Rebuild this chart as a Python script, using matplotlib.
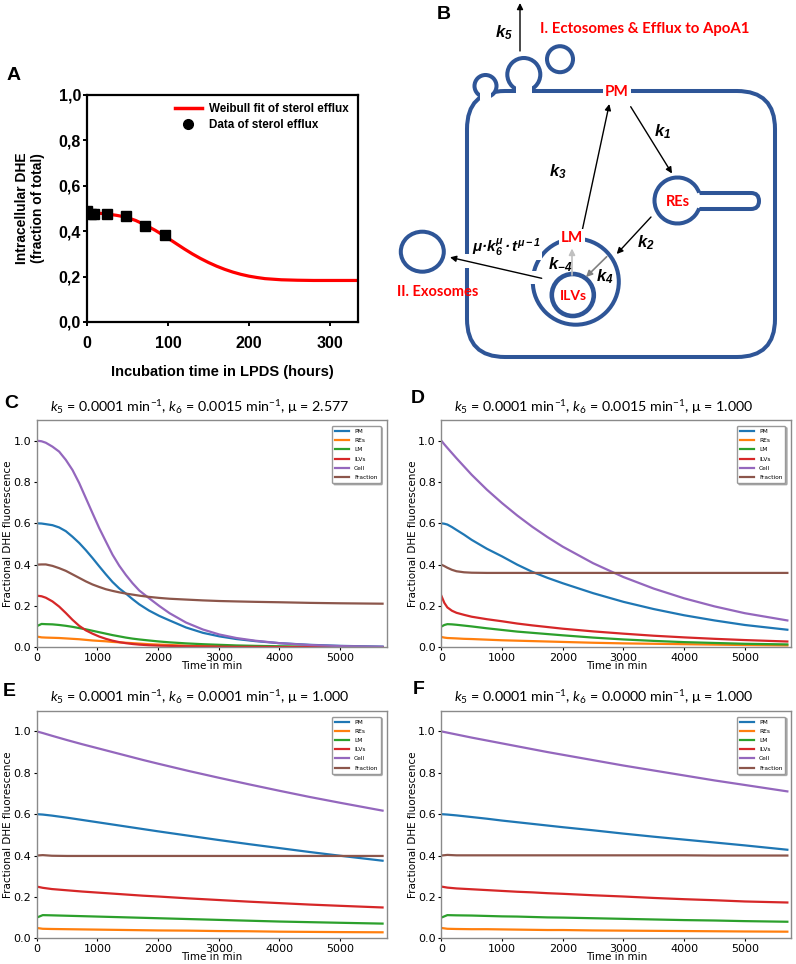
import numpy as np
import matplotlib
matplotlib.use('Agg')
import matplotlib.pyplot as plt
from matplotlib.patches import Circle, Ellipse, FancyBboxPatch, Rectangle, Arc
from matplotlib.lines import Line2D

plt.rcParams['mathtext.fontset'] = 'custom'
plt.rcParams['mathtext.rm'] = 'Lato'
plt.rcParams['mathtext.it'] = 'Lato:italic'
plt.rcParams['mathtext.bf'] = 'Liberation Sans:bold'
plt.rcParams['mathtext.bfit'] = 'Liberation Sans:italic:bold'

# ---- panel A: sterol efflux data + Weibull fit (hours, fraction) ----
efflux_h = [0, 4, 8, 24, 48, 72, 96]
efflux_val = [0.49, 0.477, 0.475, 0.474, 0.467, 0.423, 0.383]
fit_h = [0, 12, 24, 36, 48, 60, 72, 84, 96, 108, 120, 130, 140, 150, 160, 170, 180,
         190, 200, 210, 220, 240, 260, 280, 300, 335]
fit_val = [0.482, 0.480, 0.476, 0.470, 0.462, 0.447, 0.427, 0.404, 0.378, 0.350, 0.322,
           0.300, 0.280, 0.262, 0.246, 0.232, 0.220, 0.210, 0.202, 0.196, 0.191, 0.186,
           0.184, 0.183, 0.183, 0.183]
a_yticks = [0.0, 0.2, 0.4, 0.6, 0.8, 1.0]
a_xticks = [0, 100, 200, 300]

# ---- panels C-F: simulated compartments (time in min) ----
labels = ['PM', 'REs', 'LM', 'ILVs', 'Cell', 'Fraction']

# C: k6 = 0.0015, mu = 2.577
t_c = [0, 80, 150, 260, 370, 480, 590, 700, 810, 920, 1030, 1140, 1250, 1360, 1470,
       1580, 1690, 1850, 2020, 2190, 2460, 2740, 3010, 3290, 3600, 4000, 4500, 5000, 5700]
pm_c = [0.6, 0.599, 0.596, 0.591, 0.58, 0.562, 0.535, 0.505, 0.47, 0.432, 0.392, 0.353,
        0.316, 0.285, 0.26, 0.233, 0.208, 0.178, 0.152, 0.13, 0.096, 0.07, 0.053, 0.04,
        0.03, 0.02, 0.012, 0.007, 0.003]
res_c = [0.052, 0.048, 0.047, 0.046, 0.045, 0.043, 0.041, 0.039, 0.036, 0.033, 0.031,
         0.029, 0.026, 0.024, 0.022, 0.02, 0.018, 0.015, 0.013, 0.011, 0.008, 0.006,
         0.005, 0.004, 0.003, 0.002, 0.001, 0.001, 0.0005]
lm_c = [0.102, 0.113, 0.112, 0.111, 0.108, 0.104, 0.099, 0.093, 0.087, 0.08, 0.073,
        0.066, 0.059, 0.053, 0.047, 0.042, 0.038, 0.033, 0.028, 0.024, 0.019, 0.015,
        0.012, 0.009, 0.007, 0.005, 0.003, 0.002, 0.001]
ilv_c = [0.25, 0.247, 0.24, 0.222, 0.197, 0.166, 0.133, 0.104, 0.082, 0.066, 0.052,
         0.041, 0.032, 0.025, 0.02, 0.016, 0.013, 0.01, 0.008, 0.007, 0.005, 0.004,
         0.003, 0.002, 0.002, 0.001, 0.001, 0.0005, 0.0003]
cell_c = [1.0, 0.997, 0.99, 0.971, 0.947, 0.907, 0.858, 0.795, 0.722, 0.649, 0.577,
          0.512, 0.448, 0.395, 0.35, 0.31, 0.275, 0.238, 0.2, 0.165, 0.12, 0.086, 0.062,
          0.045, 0.032, 0.02, 0.011, 0.006, 0.003]
frac_c = [0.40, 0.401, 0.401, 0.394, 0.383, 0.37, 0.353, 0.336, 0.319, 0.304, 0.292,
          0.281, 0.273, 0.266, 0.26, 0.255, 0.25, 0.244, 0.239, 0.235, 0.231, 0.227,
          0.224, 0.222, 0.22, 0.218, 0.215, 0.213, 0.211]

# D: k6 = 0.0015, mu = 1
t_d = [0, 50, 100, 175, 250, 375, 500, 750, 1000, 1250, 1500, 1750, 2000, 2500, 3000,
       3500, 4000, 4500, 5000, 5700]
pm_d = [0.6, 0.598, 0.594, 0.582, 0.568, 0.545, 0.52, 0.477, 0.44, 0.40, 0.365, 0.336,
        0.31, 0.262, 0.22, 0.185, 0.155, 0.13, 0.108, 0.085]
res_d = [0.05, 0.047, 0.045, 0.044, 0.043, 0.041, 0.04, 0.037, 0.034, 0.032, 0.03, 0.028,
         0.026, 0.022, 0.019, 0.017, 0.015, 0.013, 0.011, 0.009]
lm_d = [0.1, 0.108, 0.112, 0.111, 0.109, 0.105, 0.101, 0.092, 0.084, 0.076, 0.07, 0.064,
        0.058, 0.047, 0.038, 0.031, 0.025, 0.021, 0.017, 0.014]
ilv_d = [0.25, 0.215, 0.193, 0.177, 0.167, 0.157, 0.148, 0.136, 0.126, 0.115, 0.106,
         0.098, 0.09, 0.077, 0.066, 0.056, 0.048, 0.041, 0.035, 0.028]
cell_d = [1.0, 0.982, 0.965, 0.94, 0.915, 0.875, 0.835, 0.763, 0.698, 0.638, 0.583,
          0.533, 0.487, 0.407, 0.34, 0.284, 0.237, 0.198, 0.165, 0.13]
frac_d = [0.40, 0.393, 0.385, 0.375, 0.368, 0.363, 0.361, 0.36, 0.36, 0.36, 0.36, 0.36,
          0.36, 0.36, 0.36, 0.36, 0.36, 0.36, 0.36, 0.36]

# E and F share one time grid
t_min = [0, 100, 250, 500, 750, 1000, 1250, 1500, 1750, 2000, 2500, 3000, 3500, 4000,
         4500, 5000, 5700]
pm_e = [0.6, 0.598, 0.593, 0.583, 0.572, 0.561, 0.55, 0.539, 0.528, 0.517, 0.496, 0.475,
        0.455, 0.436, 0.417, 0.399, 0.375]
res_e = [0.05, 0.046, 0.045, 0.044, 0.043, 0.042, 0.041, 0.04, 0.039, 0.038, 0.037,
         0.035, 0.034, 0.032, 0.031, 0.03, 0.029]
lm_e = [0.1, 0.112, 0.111, 0.109, 0.107, 0.105, 0.103, 0.101, 0.099, 0.097, 0.093,
        0.089, 0.085, 0.081, 0.078, 0.075, 0.071]
ilv_e = [0.25, 0.244, 0.238, 0.232, 0.226, 0.221, 0.216, 0.211, 0.206, 0.202, 0.193,
         0.185, 0.177, 0.17, 0.163, 0.157, 0.149]
cell_e = [1.0, 0.992, 0.979, 0.958, 0.938, 0.919, 0.9, 0.881, 0.862, 0.844, 0.809,
          0.776, 0.744, 0.713, 0.683, 0.655, 0.617]
frac_e = [0.40, 0.402, 0.399, 0.398, 0.398, 0.398, 0.398, 0.398, 0.398, 0.398, 0.398,
          0.398, 0.398, 0.398, 0.398, 0.398, 0.398]

pm_f = [0.6, 0.598, 0.594, 0.586, 0.578, 0.569, 0.561, 0.553, 0.545, 0.537, 0.522, 0.506,
        0.491, 0.477, 0.463, 0.449, 0.428]
res_f = [0.05, 0.046, 0.045, 0.044, 0.044, 0.043, 0.042, 0.041, 0.04, 0.04, 0.038, 0.037,
         0.036, 0.035, 0.034, 0.033, 0.032]
lm_f = [0.1, 0.112, 0.111, 0.11, 0.108, 0.106, 0.105, 0.103, 0.101, 0.1, 0.097, 0.094,
        0.091, 0.088, 0.086, 0.083, 0.08]
ilv_f = [0.25, 0.245, 0.241, 0.237, 0.233, 0.229, 0.225, 0.222, 0.218, 0.215, 0.208,
         0.202, 0.195, 0.189, 0.184, 0.178, 0.173]
cell_f = [1.0, 0.994, 0.985, 0.970, 0.956, 0.942, 0.928, 0.914, 0.9, 0.887, 0.861, 0.835,
          0.811, 0.787, 0.763, 0.741, 0.71]
frac_f = [0.40, 0.403, 0.401, 0.401, 0.401, 0.401, 0.401, 0.401, 0.401, 0.401, 0.401,
          0.401, 0.401, 0.401, 0.40, 0.40, 0.40]

k5_vals = [0.0001, 0.0001, 0.0001, 0.0001]
k6_vals = [0.0015, 0.0015, 0.0001, 0.0000]
mu_vals = [2.577, 1.000, 1.000, 1.000]

W, H = 796, 964
fig = plt.figure(figsize=(W / 100, H / 100), dpi=100)


def box(l, t, r, b):
    return [l / W, 1 - b / H, (r - l) / W, (b - t) / H]


def ftext(x, y, s, **kw):
    kw.setdefault('ha', 'center')
    kw.setdefault('va', 'center')
    return fig.text(x / W, 1 - y / H, s, **kw)


arial_b = dict(family='Liberation Sans', weight='bold')

# ---------------- panel A ----------------
axA = fig.add_axes(box(87.3, 95, 358, 322))
axA.plot(fit_h, fit_val, color='red', lw=2.3, zorder=2)
axA.plot(efflux_h, efflux_val, 's', color='black', ms=7, zorder=3)
axA.set_xlim(0, 335)
axA.set_ylim(0, 1.0)
axA.set_yticks(a_yticks, [f'{v:.1f}'.replace('.', ',') for v in a_yticks],
               fontsize=11.5, **arial_b)
axA.set_xticks(a_xticks, [str(v) for v in a_xticks], fontsize=11.5, **arial_b)
for s in axA.spines.values():
    s.set_linewidth(1.6)
axA.tick_params(axis='y', direction='out', length=3, width=1.4, pad=1.5)
axA.tick_params(axis='x', direction='out', length=3, width=1.4, pad=7)
handles = [Line2D([], [], color='red', lw=2.5),
           Line2D([], [], ls='none', marker='o', color='black', ms=7)]
axA.legend(handles, ['Weibull fit of sterol efflux', 'Data of sterol efflux'],
           loc='upper right', bbox_to_anchor=(0.965, 0.965), frameon=False,
           prop=dict(family='Liberation Sans', weight='bold', size=8.4),
           handlelength=2.3, handletextpad=0.6, labelspacing=0.35,
           borderaxespad=0, borderpad=0)
ftext(30, 208.5, 'Intracellular DHE\n(fraction of total)', rotation=90,
      fontsize=10, linespacing=1.2, **arial_b)
ftext(222.5, 372, 'Incubation time in LPDS (hours)', fontsize=10.5, **arial_b)

# ---------------- panel B (scheme) ----------------
axB = fig.add_axes(box(380, 0, 796, 360))
axB.set_xlim(380, 796)
axB.set_ylim(360, 0)
axB.axis('off')
blue = '#2e5597'
red = '#ff0000'
mlw = 2.9

axB.add_patch(FancyBboxPatch((467, 91), 308, 266, boxstyle='round,pad=0,rounding_size=38',
                             fc='none', ec=blue, lw=mlw, zorder=2))
# budding vesicles on the plasma membrane
axB.add_patch(Circle((485.5, 86), 11, fc='white', ec=blue, lw=mlw, zorder=3))
axB.add_patch(Rectangle((480, 93), 11, 7, fc='white', ec='none', zorder=4))
axB.add_patch(Circle((523.8, 74.5), 16.5, fc='white', ec=blue, lw=mlw, zorder=3))
axB.add_patch(Rectangle((516, 86), 15.5, 9, fc='white', ec='none', zorder=4))
axB.add_patch(Circle((560, 59.2), 13, fc='none', ec=blue, lw=mlw, zorder=3))
axB.add_patch(Ellipse((422.3, 251.7), 43, 40, fc='none', ec=blue, lw=mlw, zorder=3))
# membrane gap where exosome leaves
axB.add_patch(Rectangle((461, 254), 12, 14, fc='white', ec='none', zorder=4))
# recycling endosome with tubule
axB.add_patch(FancyBboxPatch((690, 193), 69, 16, boxstyle='round,pad=0,rounding_size=8',
                             fc='white', ec=blue, lw=mlw, zorder=2))
axB.add_patch(Circle((677.5, 200.5), 23, fc='white', ec='none', zorder=3))
axB.add_patch(Arc((677.5, 200.5), 46, 46, theta1=20, theta2=340, ec=blue, lw=mlw, zorder=4))
# late endosome and ILVs
axB.add_patch(Circle((575.8, 281.7), 43, fc='none', ec=blue, lw=mlw, zorder=2))
axB.add_patch(Rectangle((528, 271), 11, 13, fc='white', ec='none', zorder=3))
axB.add_patch(Circle((572.8, 295), 21, fc='none', ec=blue, lw=3.3, zorder=2))


def arrow(p0, p1, color='black', lw=1.0):
    axB.annotate('', xy=p1, xytext=p0, zorder=5,
                 arrowprops=dict(arrowstyle='-|>', color=color, lw=lw,
                                 mutation_scale=9, shrinkA=0, shrinkB=0))


arrow((520, 51), (520, 3))
arrow((630.7, 106.7), (672, 173.5))
arrow((582.3, 230), (609.3, 104))
arrow((651, 217), (616.7, 254))
arrow((572, 275), (572, 248.5), color='#c0c0c0', lw=1.2)
arrow((606.7, 256.7), (586, 277), color='#808080', lw=1.2)
arrow((541.7, 278.3), (450, 257.3))

red_kw = dict(family='Lato', weight='bold', color=red, zorder=6)
wbox = dict(fc='white', ec='none', pad=1.5)
axB.text(540, 29.5, 'I. Ectosomes & Efflux to ApoA1', ha='left', va='center',
         fontsize=10.8, **red_kw)
axB.text(616.7, 92.5, 'PM', ha='center', va='center', fontsize=11, bbox=wbox, **red_kw)
axB.text(677.7, 201.5, 'REs', ha='center', va='center', fontsize=10.5, **red_kw)
axB.text(572, 238.5, 'LM', ha='center', va='center', fontsize=11, bbox=wbox, **red_kw)
axB.text(573, 295.5, 'ILVs', ha='center', va='center', fontsize=10, **red_kw)
axB.text(438, 291.7, 'II. Exosomes', ha='center', va='center', fontsize=10.5, **red_kw)

k_kw = dict(ha='center', va='center', fontsize=12, zorder=6)
axB.text(504, 33, r'$\mathbfit{k}_{\mathbfit{5}}$', **k_kw)
axB.text(663, 132, r'$\mathbfit{k}_{\mathbfit{1}}$', **k_kw)
axB.text(558.3, 172, r'$\mathbfit{k}_{\mathbfit{3}}$', **k_kw)
axB.text(646, 242.5, r'$\mathbfit{k}_{\mathbfit{2}}$', **k_kw)
axB.text(560, 265, r'$\mathbfit{k}_{\mathbfit{-4}}$', **k_kw)
axB.text(605, 277, r'$\mathbfit{k}_{\mathbfit{4}}$', **k_kw)
axB.text(506.7, 248, r'$\mathbfit{μ·k}_{\mathbfit{6}}^{\mathbfit{μ}}'
         r'\mathbfit{\,·\,t}^{\,\mathbfit{μ-1}}$',
         ha='center', va='center', fontsize=11, zorder=6,
         bbox=dict(fc='white', ec='none', pad=0.5))

# ---------------- panels C-F ----------------
colors = ['#1f77b4', '#ff7f0e', '#2ca02c', '#d62728', '#9467bd', '#8c564b']
panels = [
    ('C', (36.7, 420, 386.5, 647.3), t_c, [pm_c, res_c, lm_c, ilv_c, cell_c, frac_c]),
    ('D', (441.3, 420, 791.3, 647.3), t_d, [pm_d, res_d, lm_d, ilv_d, cell_d, frac_d]),
    ('E', (36.7, 710.7, 386.5, 938.3), t_min, [pm_e, res_e, lm_e, ilv_e, cell_e, frac_e]),
    ('F', (441.3, 710.7, 791.3, 938.3), t_min, [pm_f, res_f, lm_f, ilv_f, cell_f, frac_f]),
]
letter_pos = {'A': (13.3, 75), 'B': (443.3, 14.2), 'C': (10.8, 403.3),
              'D': (417.5, 398.3), 'E': (9.2, 691.7), 'F': (418.3, 689)}

for i, (name, (l, t, r, b), tt, series) in enumerate(panels):
    ax = fig.add_axes(box(l, t, r, b))
    for ys, c, lab in zip(series, colors, labels):
        ax.plot(tt, ys, color=c, lw=1.6, label=lab)
    ax.set_xlim(0, 5765)
    ax.set_ylim(0, 1.1)
    ax.set_xticks([0, 1000, 2000, 3000, 4000, 5000])
    ax.set_yticks([0.0, 0.2, 0.4, 0.6, 0.8, 1.0])
    ax.tick_params(labelsize=8, length=2.5, width=0.8, pad=1.5)
    for s in ax.spines.values():
        s.set_color('#8a8a8a')
        s.set_linewidth(1.0)
    ax.legend(loc='upper right', fontsize=4.2, handlelength=2.4, labelspacing=0.7,
              borderpad=0.55, borderaxespad=1.0, framealpha=1, edgecolor='#999999',
              shadow={'ox': 1.2, 'oy': -1.2, 'alpha': 0.35})
    title = (rf'$k_5$ = {k5_vals[i]:.4f} min$^{{-1}}$, $k_6$ = {k6_vals[i]:.4f} '
             rf'min$^{{-1}}$, μ = {mu_vals[i]:.3f}')
    ftext(l + 0.465 * (r - l), t - 13.5, title, fontsize=10.3,
          family=['Lato', 'Liberation Serif'])
    ftext(l - 28.4, (t + b) / 2, 'Fractional DHE fluorescence', rotation=90, fontsize=7.5)
    ftext((l + r) / 2, b + 19, 'Time in min', fontsize=7.5)

for letter, (x, y) in letter_pos.items():
    ftext(x, y, letter, fontsize=14, **arial_b)

fig.savefig('out.png', dpi=100, facecolor='white')
